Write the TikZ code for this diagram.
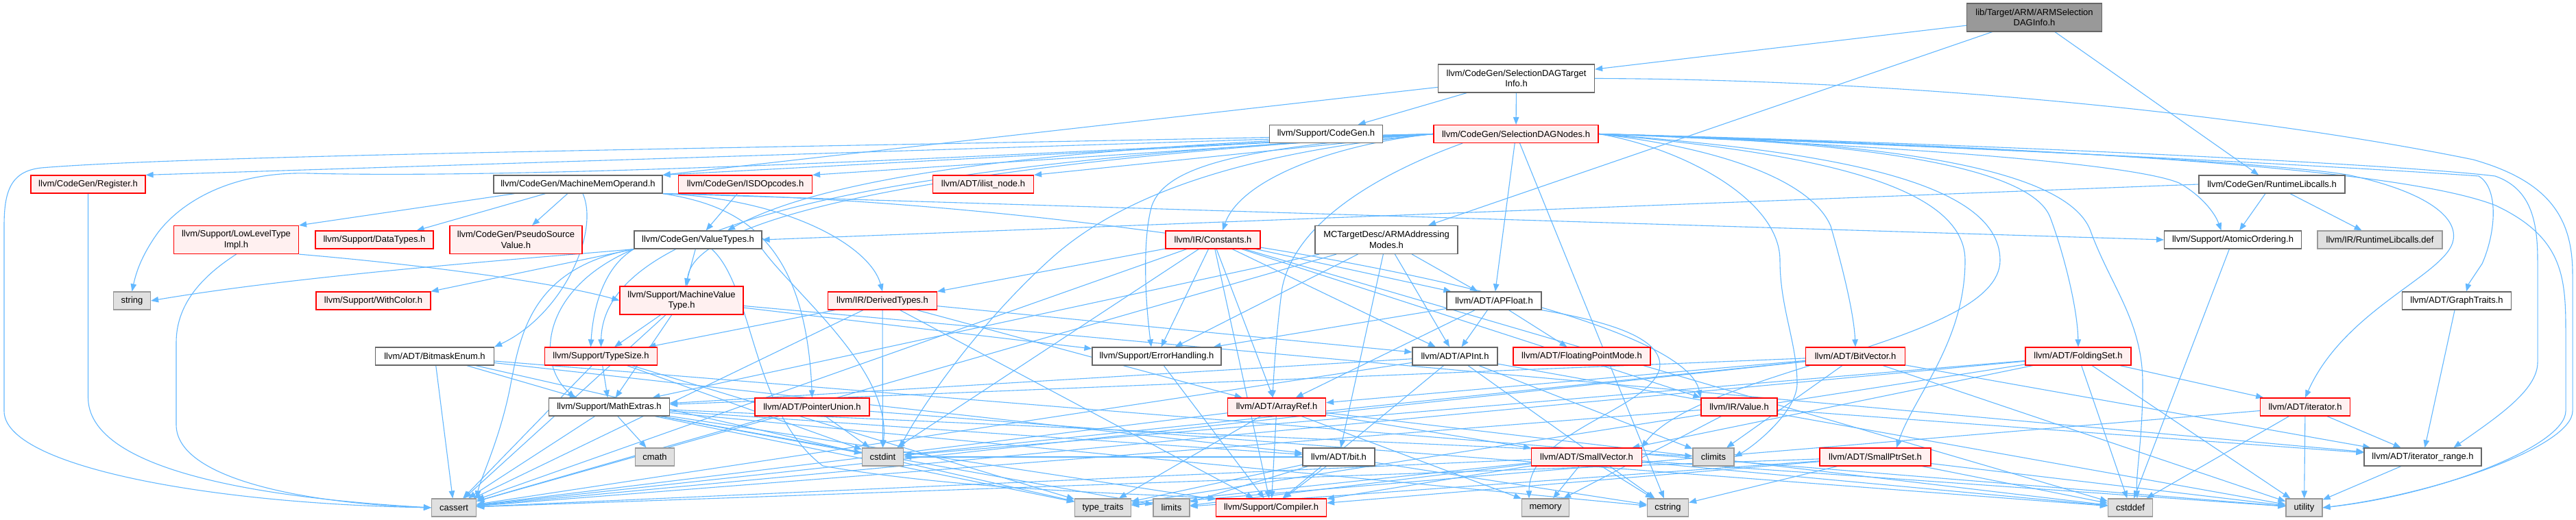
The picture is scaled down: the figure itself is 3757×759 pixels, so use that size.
\documentclass[tikz,border=0pt]{standalone}
\usepackage{fontspec}
\setmainfont{Liberation Sans}
\usetikzlibrary{arrows.meta}
\pgfdeclarelayer{bg}
\pgfsetlayers{bg,main}
\definecolor{edgeblue}{RGB}{99,184,255}
\definecolor{redfill}{RGB}{255,240,240}
\definecolor{redline}{RGB}{255,0,0}
\definecolor{boxline}{RGB}{102,102,102}
\definecolor{sysfill}{RGB}{224,224,224}
\definecolor{sysline}{RGB}{153,153,153}
\definecolor{rootfill}{RGB}{153,153,153}
\begin{document}
\begin{tikzpicture}[x=1pt,y=-1pt,
  box/.style={rectangle, draw, inner sep=0pt, minimum height=26pt, align=center, font=\fontsize{13}{15.5}\selectfont, line width=1.2pt},
  two/.style={minimum height=41pt},
  wbox/.style={box, draw=boxline, fill=white},
  rbox/.style={box, draw=redline, fill=redfill},
  sbox/.style={box, draw=sysline, fill=sysfill},
  tbox/.style={box, draw=boxline, fill=rootfill},
  e/.style={draw=edgeblue, line width=1.1pt, -{Triangle[length=11pt,width=8.5pt]}},
]
\useasboundingbox (0,0) rectangle (3757,759);
% nodes
\node[tbox,two,minimum width=197pt] (root) at (2967,25.5) {lib/Target/ARM/ARMSelection\\DAGInfo.h};
\node[wbox,two,minimum width=228pt] (sdti) at (2211.5,114.5) {llvm/CodeGen/SelectionDAGTarget\\Info.h};
\node[wbox,minimum width=165pt] (codegen) at (1934,195.5) {llvm/Support/CodeGen.h};
\node[rbox,minimum width=240pt] (sdn) at (2211,195.5) {llvm/CodeGen/SelectionDAGNodes.h};
\node[wbox,two,minimum width=208pt] (armam) at (2022,350) {MCTargetDesc/ARMAddressing\\Modes.h};
\node[wbox,minimum width=213pt] (rtlc) at (3313.5,269) {llvm/CodeGen/RuntimeLibcalls.h};
\node[wbox,minimum width=200pt] (atomic) at (3256.5,350) {llvm/Support/AtomicOrdering.h};
\node[sbox,minimum width=182pt] (rtdef) at (3471,350) {llvm/IR/RuntimeLibcalls.def};
\node[rbox,minimum width=167pt] (register) at (128.5,269) {llvm/CodeGen/Register.h};
\node[rbox,two,minimum width=182pt] (lltimpl) at (344.5,350) {llvm/Support/LowLevelType\\Impl.h};
\node[rbox,minimum width=172pt] (datatypes) at (546,350) {llvm/Support/DataTypes.h};
\node[wbox,minimum width=246pt] (mmo) at (843,269) {llvm/CodeGen/MachineMemOperand.h};
\node[rbox,minimum width=195pt] (isd) at (1087,269) {llvm/CodeGen/ISDOpcodes.h};
\node[rbox,two,minimum width=193pt] (psv) at (752.5,350) {llvm/CodeGen/PseudoSource\\Value.h};
\node[wbox,minimum width=186pt] (vt) at (1018,350) {llvm/CodeGen/ValueTypes.h};
\node[rbox,minimum width=147pt] (ilist) at (1434,269) {llvm/ADT/ilist\_node.h};
\node[rbox,minimum width=138pt] (constants) at (1769,350) {llvm/IR/Constants.h};
\node[sbox,minimum width=54pt] (string) at (192.5,439) {string};
\node[rbox,minimum width=167pt] (withcolor) at (544.5,439) {llvm/Support/WithColor.h};
\node[wbox,minimum width=173pt] (bitmask) at (634,520) {llvm/ADT/BitmaskEnum.h};
\node[sbox,minimum width=65pt] (cassert) at (662,741) {cassert};
\node[rbox,two,minimum width=180pt] (mvt) at (994,438.5) {llvm/Support/MachineValue\\Type.h};
\node[rbox,minimum width=164pt] (typesize) at (876.5,520) {llvm/Support/TypeSize.h};
\node[wbox,minimum width=176pt] (mathext) at (888.5,594) {llvm/Support/MathExtras.h};
\node[sbox,minimum width=57pt] (cmath) at (955,667) {cmath};
\node[rbox,minimum width=167pt] (pu) at (1184.5,594) {llvm/ADT/PointerUnion.h};
\node[rbox,minimum width=159pt] (derived) at (1287,439) {llvm/IR/DerivedTypes.h};
\node[sbox,minimum width=60pt] (cstdint) at (1287.5,667) {cstdint};
\node[wbox,minimum width=188pt] (errh) at (1687,520) {llvm/Support/ErrorHandling.h};
\node[rbox,minimum width=143pt] (arrayref) at (1862,594) {llvm/ADT/ArrayRef.h};
\node[sbox,minimum width=82pt] (typetraits) at (1608.5,741) {type\_traits};
\node[sbox,minimum width=53pt] (limits) at (1708.5,741) {limits};
\node[rbox,minimum width=161pt] (compiler) at (1854,741) {llvm/Support/Compiler.h};
\node[wbox,minimum width=138pt] (apfloat) at (2179,439) {llvm/ADT/APFloat.h};
\node[wbox,minimum width=124pt] (apint) at (2122,520) {llvm/ADT/APInt.h};
\node[rbox,minimum width=200pt] (fpmode) at (2307,520) {llvm/ADT/FloatingPointMode.h};
\node[wbox,minimum width=105pt] (bit) at (1952.5,667) {llvm/ADT/bit.h};
\node[rbox,minimum width=161pt] (smallvec) at (2314,667) {llvm/ADT/SmallVector.h};
\node[sbox,minimum width=69pt] (memory) at (2254,741) {memory};
\node[sbox,minimum width=60pt] (cstring) at (2432.5,741) {cstring};
\node[sbox,minimum width=60pt] (climits) at (2499,667) {climits};
\node[rbox,minimum width=111pt] (value) at (2536.5,594) {llvm/IR/Value.h};
\node[rbox,minimum width=145pt] (bitvec) at (2706,520) {llvm/ADT/BitVector.h};
\node[rbox,minimum width=154pt] (folding) at (3031,520) {llvm/ADT/FoldingSet.h};
\node[rbox,minimum width=162pt] (smallptr) at (2735,667) {llvm/ADT/SmallPtrSet.h};
\node[sbox,minimum width=65pt] (cstddef) at (3107,741) {cstddef};
\node[wbox,minimum width=159pt] (graphtraits) at (3583,439) {llvm/ADT/GraphTraits.h};
\node[rbox,minimum width=131pt] (iterator) at (3362,594) {llvm/ADT/iterator.h};
\node[wbox,minimum width=171pt] (itrange) at (3533.5,667) {llvm/ADT/iterator\_range.h};
\node[sbox,minimum width=53pt] (utility) at (3360.5,741) {utility};
% edges
\begin{pgfonlayer}{bg}
\fill[white] (0,0) rectangle (3757,759);
\foreach \t in {sdti,armam,rtlc} \draw[e] (root) -- (\t);
\foreach \t in {sdn,codegen} \draw[e] (sdti) -- (\t);
\draw[e] (sdti) -- (mmo.north east);
\draw[e] (sdti.east) .. controls (2800,116) and (3300,170) .. (3607,233) .. controls (3720,265) and (3752,320) .. (3752,400) -- (3752,600) .. controls (3752,650) and (3560,720) .. (utility.east);
% SelectionDAGNodes
\foreach \t in {register,mmo,isd,ilist} \draw[e] (sdn.west) -- (\t.north east);
\foreach \t in {apfloat,cstring} \draw[e] (sdn) -- (\t);
\draw[e] (sdn.west) .. controls (1500,215) and (1200,260) .. ([xshift=43pt]vt.north);
\draw[e] (sdn.west) .. controls (1950,210) and (1810,260) .. ([xshift=14pt]constants.north);
\draw[e] (sdn.west) .. controls (1800,215) and (1700,245) .. (1680,300) .. controls (1668,340) and (1668,420) .. ([xshift=-8pt]errh.north);
\draw[e] (sdn.west) .. controls (1850,220) and (1650,270) .. (1530,380) .. controls (1420,480) and (1340,600) .. ([xshift=25pt]cstdint.north);
\draw[e] (sdn.west) .. controls (1500,230) and (1010,300) .. ([xshift=8pt]mvt.north);
\draw[e] (sdn.west) .. controls (1400,235) and (880,300) .. (typesize.north);
\draw[e] ([xshift=-78pt]sdn.south) .. controls (2020,250) and (1890,320) .. (1870,420) .. controls (1862,480) and (1858,540) .. ([xshift=-6pt]arrayref.north);
\draw[e] (sdn.west) .. controls (1200,215) and (300,225) .. (60,245) .. controls (15,250) and (6,280) .. (6,330) -- (6,600) .. controls (6,680) and (300,735) .. (cassert.west);
\draw[e] (sdn.west) .. controls (1500,225) and (800,262) .. (450,253) .. controls (330,250) and (260,300) .. (230,340) .. controls (205,375) and (198,400) .. (string.north);
\draw[e] (sdn.east) .. controls (2450,215) and (2596,290) .. (2596,380) .. controls (2596,450) and (2621,500) .. (2621,560) .. controls (2621,600) and (2560,650) .. (climits.east);
\draw[e] (sdn.east) .. controls (2500,215) and (2640,260) .. (2670,330) .. controls (2690,400) and (2704,460) .. (bitvec.north);
\draw[e] (sdn.east) .. controls (2600,220) and (2866,260) .. (2866,380) .. controls (2866,500) and (2790,580) .. ([xshift=31pt]smallptr.north);
\draw[e] (sdn.east) .. controls (2650,220) and (2917,260) .. (2917,380) .. controls (2917,500) and (2480,540) .. ([xshift=80pt]smallvec.north);
\draw[e] (sdn.east) .. controls (2700,205) and (2960,240) .. (2990,317) .. controls (3010,370) and (3030,450) .. (folding.north);
\draw[e] (sdn.east) .. controls (2750,205) and (3020,245) .. (3050,340) .. controls (3080,420) and (3125,470) .. (3125,560) .. controls (3125,640) and (3115,690) .. ([xshift=10pt]cstddef.north);
\draw[e] (sdn.east) .. controls (2700,210) and (3100,235) .. (3178,267) .. controls (3210,285) and (3230,310) .. ([xshift=-17pt]atomic.north);
\draw[e] (sdn.east) .. controls (2800,210) and (3300,235) .. (3423,255) .. controls (3520,275) and (3585,310) .. (3578,350) .. controls (3570,400) and (3420,450) .. (iterator.north);
\draw[e] (sdn.east) .. controls (2900,215) and (3450,245) .. (3615,257) .. controls (3645,275) and (3640,340) .. (3620,385) .. controls (3610,400) and (3600,415) .. ([xshift=14pt]graphtraits.north);
\draw[e] (sdn.east) .. controls (2900,210) and (3500,240) .. (3639,257) .. controls (3690,275) and (3701,320) .. (3701,380) -- (3701,529) .. controls (3701,570) and (3640,610) .. ([xshift=45pt]itrange.north);
\draw[e] (sdn.east) .. controls (3000,215) and (3500,245) .. (3640,300) .. controls (3735,345) and (3742,400) .. (3742,480) -- (3742,600) .. controls (3742,650) and (3560,722) .. (utility.east);
% MachineMemOperand
\draw[e] (mmo) -- (lltimpl.north east);
\draw[e] (mmo) -- ([xshift=-25pt]datatypes.north east);
\draw[e] (mmo) -- (psv);
\draw[e] ([xshift=7pt]mmo.south) .. controls (875,340) and (820,460) .. (bitmask.north east);
\draw[e] (mmo.south east) .. controls (1080,300) and (1175,350) .. (pu.north);
\draw[e] (mmo.south east) .. controls (1150,290) and (1270,360) .. (derived.north);
\draw[e] (mmo.south east) .. controls (1600,290) and (2450,440) .. (value.north west);
\draw[e] (mmo.south east) -- (atomic.west);
\draw[e] (isd) -- (vt);
\draw[e] (register.south) -- (128.5,580) .. controls (128.5,680) and (350,725) .. (cassert.west);
% ValueTypes
\draw[e] (vt.south west) .. controls (800,375) and (450,400) .. (string.east);
\draw[e] (vt.south west) -- (withcolor.north east);
\draw[e] (vt) -- (mvt);
\draw[e] (vt.south west) .. controls (880,390) and (865,450) .. ([xshift=-15pt]typesize.north);
\draw[e] (vt.south west) .. controls (790,420) and (780,530) .. ([xshift=-50pt]mathext.north);
\draw[e] ([xshift=20pt]vt.south) .. controls (1100,420) and (1095,600) .. (1200,680) .. controls (1400,715) and (1650,720) .. (compiler.north west);
\draw[e] (vt.south west) .. controls (780,390) and (760,480) .. (745,560) .. controls (730,640) and (700,700) .. (cassert.north east);
\draw[e] (vt.south east) .. controls (1160,430) and (1300,540) .. (cstdint.north);
% LowLevelTypeImpl
\draw[e] (lltimpl.south east) .. controls (600,385) and (800,410) .. (mvt.west);
\draw[e] (lltimpl.south) .. controls (300,400) and (257,440) .. (257,500) -- (257,620) .. controls (257,700) and (450,735) .. (cassert.west);
% others
\foreach \t in {apfloat,apint,arrayref,compiler,errh,cassert,cstddef,cstdint} \draw[e] (constants) -- (\t);
\draw[e] (constants) -- (derived.north east);
\draw[e] (constants) -- (value.north west);
\foreach \t in {apfloat,apint,bit,errh,mathext,cassert} \draw[e] (armam) -- (\t);
\foreach \t in {rtdef,atomic} \draw[e] (rtlc) -- (\t);
\draw[e] (rtlc.west) -- (vt.east);
\draw[e] (atomic) -- (cstddef);
\foreach \t in {itrange,errh,mathext,typesize,cassert} \draw[e] (mvt) -- (\t);
\foreach \t in {mathext,cassert,cstdint,typetraits} \draw[e] (typesize) -- (\t);
\foreach \t in {bit,compiler,cassert,climits,cmath,cstdint,cstring,limits,typetraits} \draw[e] (mathext) -- (\t);
\foreach \t in {mathext,cassert,bit,typetraits,utility} \draw[e] (bitmask) -- (\t);
\foreach \t in {cassert,cstddef,cstdint} \draw[e] (pu) -- (\t);
\foreach \t in {apint,arrayref,typesize,compiler,cassert,cstdint} \draw[e] (derived) -- (\t);
\draw[e] (errh) -- (compiler);
\foreach \t in {smallvec,compiler,cassert,cstddef,memory,typetraits} \draw[e] (arrayref) -- (\t);
\foreach \t in {apint,arrayref,fpmode,errh} \draw[e] (apfloat) -- (\t);
\draw[e] (apfloat.south east) .. controls (2350,470) and (2430,495) .. (2420,540) .. controls (2400,600) and (2230,630) .. ([xshift=-24pt]memory.north);
\foreach \t in {compiler,mathext,cassert,climits,cstring,utility} \draw[e] (apint) -- (\t);
\foreach \t in {compiler,cstdint,limits,typetraits,cstring} \draw[e] (bit) -- (\t);
\foreach \t in {compiler,cassert,cstddef,cstring,limits,memory,typetraits,utility} \draw[e] (smallvec) -- (\t);
\foreach \t in {itrange,cassert,memory} \draw[e] (value) -- (\t);
\foreach \t in {arrayref,itrange,mathext,cassert,climits,cstdint,utility} \draw[e] (bitvec) -- (\t);
\foreach \t in {smallvec,iterator,cassert,cstddef,cstdint,typetraits,utility} \draw[e] (folding) -- (\t);
\foreach \t in {compiler,cassert,cstddef,cstring,limits,utility} \draw[e] (smallptr) -- (\t);
\foreach \t in {itrange,cstddef,typetraits,utility} \draw[e] (iterator) -- (\t);
\draw[e] (itrange) -- (utility);
\draw[e] (graphtraits) -- (itrange);
\end{pgfonlayer}
\end{tikzpicture}
\end{document}
